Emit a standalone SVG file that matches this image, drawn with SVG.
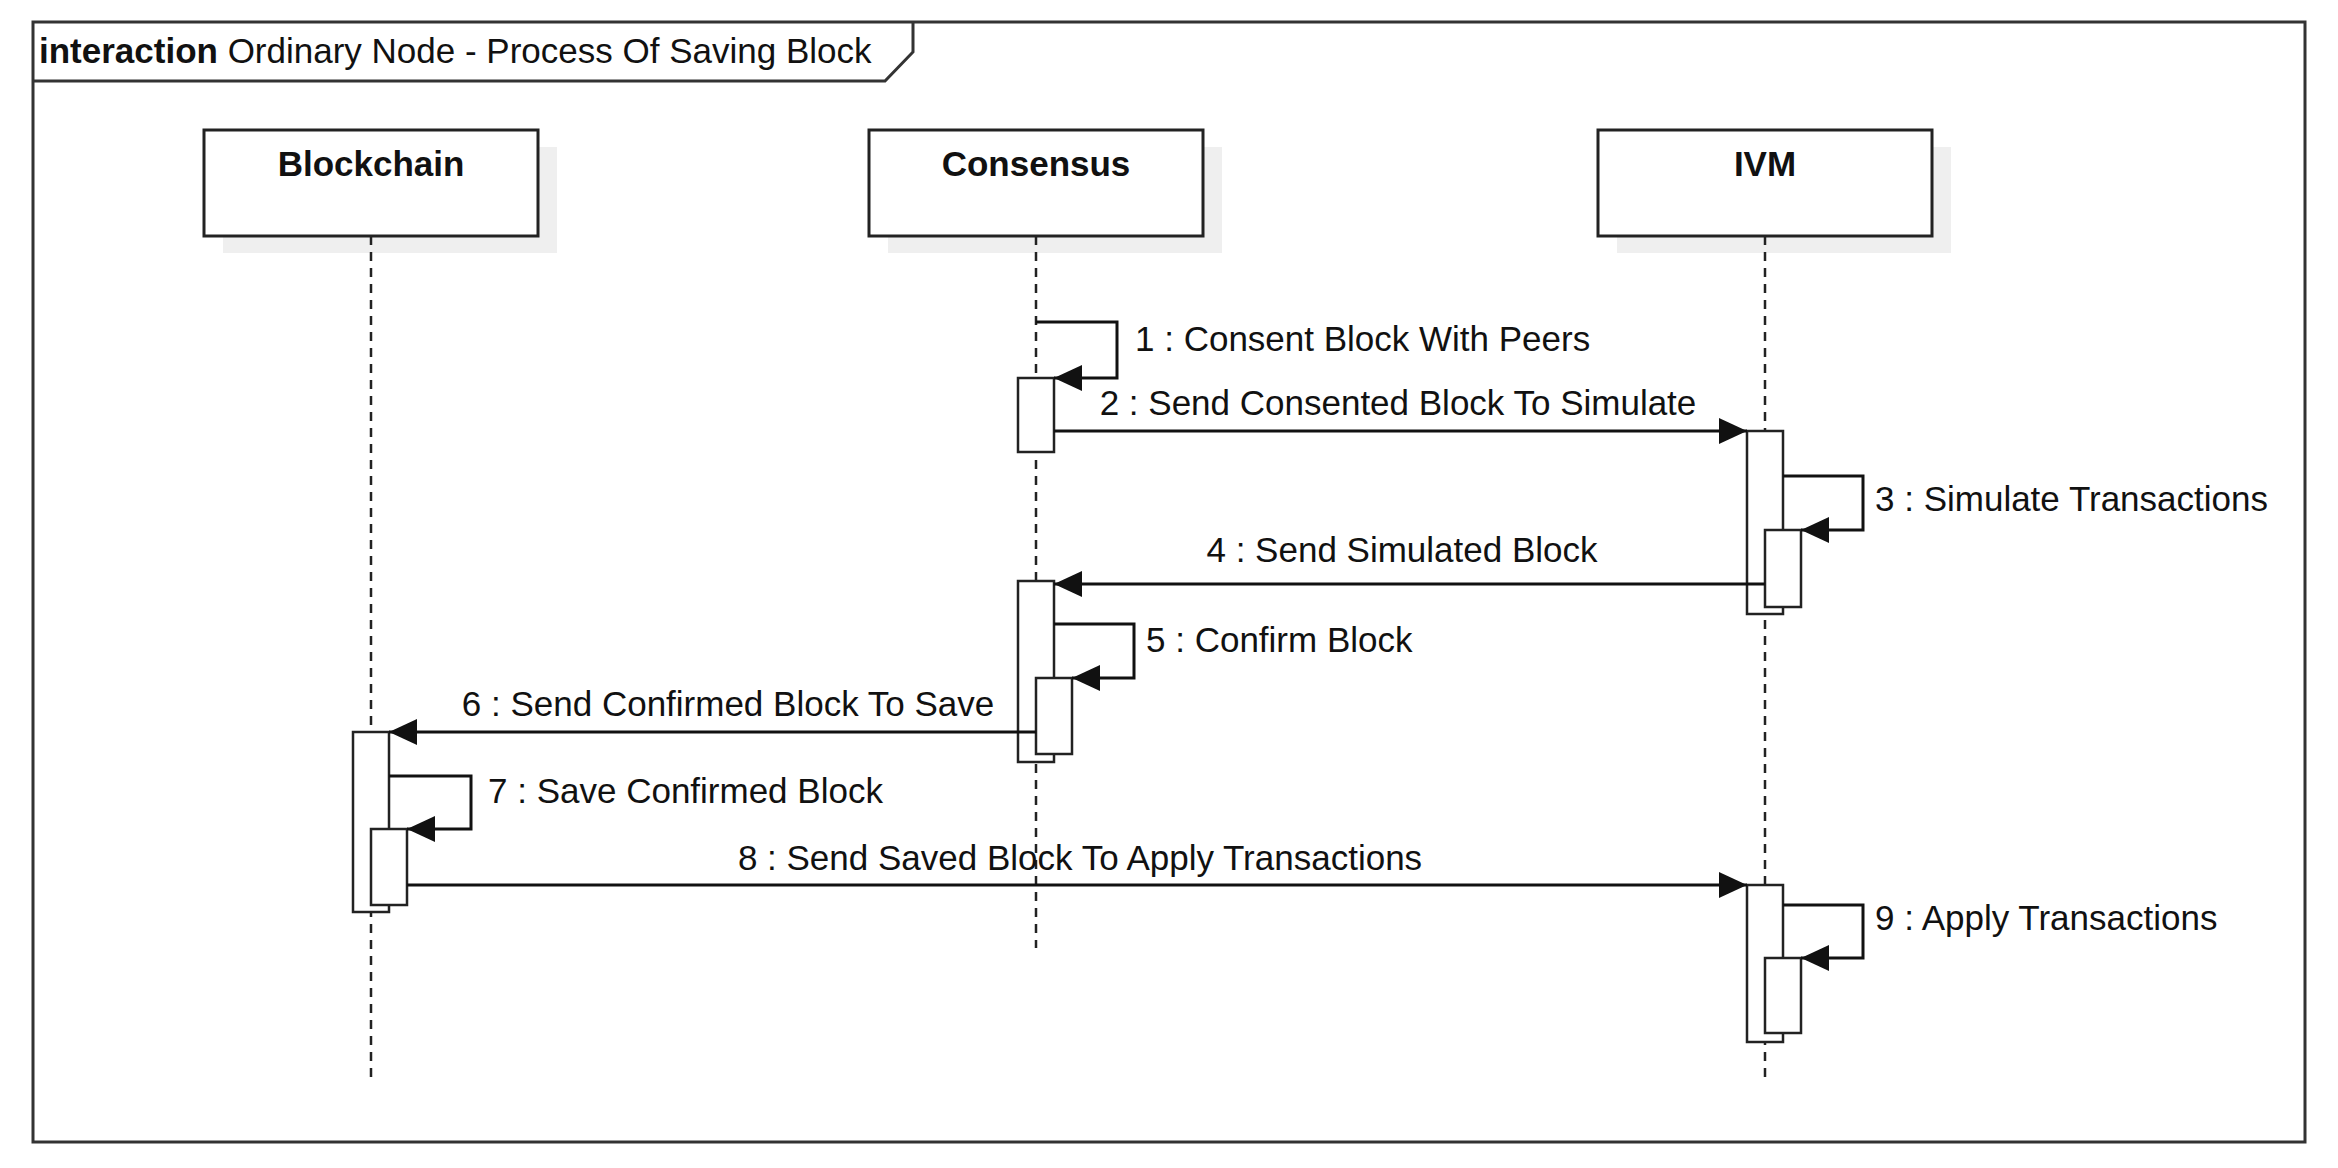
<svg xmlns="http://www.w3.org/2000/svg" width="2338" height="1168" viewBox="0 0 2338 1168">
<style>
text{font-family:"Liberation Sans",Arial,sans-serif;font-size:35px;fill:#111}
.name{font-weight:bold;text-anchor:middle}
.box{fill:#fff;stroke:#222;stroke-width:3}
.shadow{fill:#efefef}
.life{stroke:#222;stroke-width:2.5;stroke-dasharray:9 7;fill:none}
.act{fill:#fff;stroke:#222;stroke-width:2.5}
.msg{fill:none;stroke:#111;stroke-width:3;marker-end:url(#arr)}
.mid{text-anchor:middle}
</style>
<defs>
<marker id="arr" markerUnits="userSpaceOnUse" markerWidth="28" markerHeight="26" viewBox="0 0 28 26" refX="28" refY="13" orient="auto">
<path d="M0,0 L28,13 L0,26 z" fill="#111"/>
</marker>
</defs>
<rect width="2338" height="1168" fill="#fff"/>
<g id="frame">
<rect x="33" y="22" width="2272" height="1120" fill="none" stroke="#333" stroke-width="3"/>
<path d="M33,81 H885 L913,52 V22" fill="none" stroke="#333" stroke-width="3"/>
<text x="39" y="63"><tspan font-weight="bold">interaction</tspan> Ordinary Node - Process Of Saving Block</text>
</g>
<g id="blockchain">
<rect class="shadow" x="223" y="147" width="334" height="106"/>
<rect class="box" x="204" y="130" width="334" height="106"/>
<text class="name" x="371" y="176">Blockchain</text>
<line class="life" x1="371" y1="236" x2="371" y2="1077"/>
</g>
<g id="consensus">
<rect class="shadow" x="888" y="147" width="334" height="106"/>
<rect class="box" x="869" y="130" width="334" height="106"/>
<text class="name" x="1036" y="176">Consensus</text>
<line class="life" x1="1036" y1="236" x2="1036" y2="948"/>
</g>
<g id="ivm">
<rect class="shadow" x="1617" y="147" width="334" height="106"/>
<rect class="box" x="1598" y="130" width="334" height="106"/>
<text class="name" x="1765" y="176">IVM</text>
<line class="life" x1="1765" y1="236" x2="1765" y2="1077"/>
</g>
<g id="activations">
<rect class="act" x="1018" y="378" width="36" height="74"/>
<rect class="act" x="1747" y="431" width="36" height="183"/>
<rect class="act" x="1765" y="530" width="36" height="77"/>
<rect class="act" x="1018" y="581" width="36" height="181"/>
<rect class="act" x="1036" y="678" width="36" height="76"/>
<rect class="act" x="353" y="732" width="36" height="180"/>
<rect class="act" x="371" y="829" width="36" height="76"/>
<rect class="act" x="1747" y="885" width="36" height="157"/>
<rect class="act" x="1765" y="958" width="36" height="75"/>
</g>
<g id="connectors">
<path class="msg" d="M1036,322 H1117 V378 H1054"/>
<text x="1135" y="351">1 : Consent Block With Peers</text>
<path class="msg" d="M1054,431 H1747"/>
<text class="mid" x="1398" y="415">2 : Send Consented Block To Simulate</text>
<path class="msg" d="M1783,476 H1863 V530 H1801"/>
<text x="1875" y="511">3 : Simulate Transactions</text>
<path class="msg" d="M1765,584 H1054"/>
<text class="mid" x="1402" y="562">4 : Send Simulated Block</text>
<path class="msg" d="M1054,624 H1134 V678 H1072"/>
<text x="1146" y="652">5 : Confirm Block</text>
<path class="msg" d="M1036,732 H389"/>
<text class="mid" x="728" y="716">6 : Send Confirmed Block To Save</text>
<path class="msg" d="M389,776 H471 V829 H407"/>
<text x="488" y="803">7 : Save Confirmed Block</text>
<path class="msg" d="M407,885 H1747"/>
<text class="mid" x="1080" y="870">8 : Send Saved Block To Apply Transactions</text>
<path class="msg" d="M1783,905 H1863 V958 H1801"/>
<text x="1875" y="930">9 : Apply Transactions</text>
</g>
</svg>
